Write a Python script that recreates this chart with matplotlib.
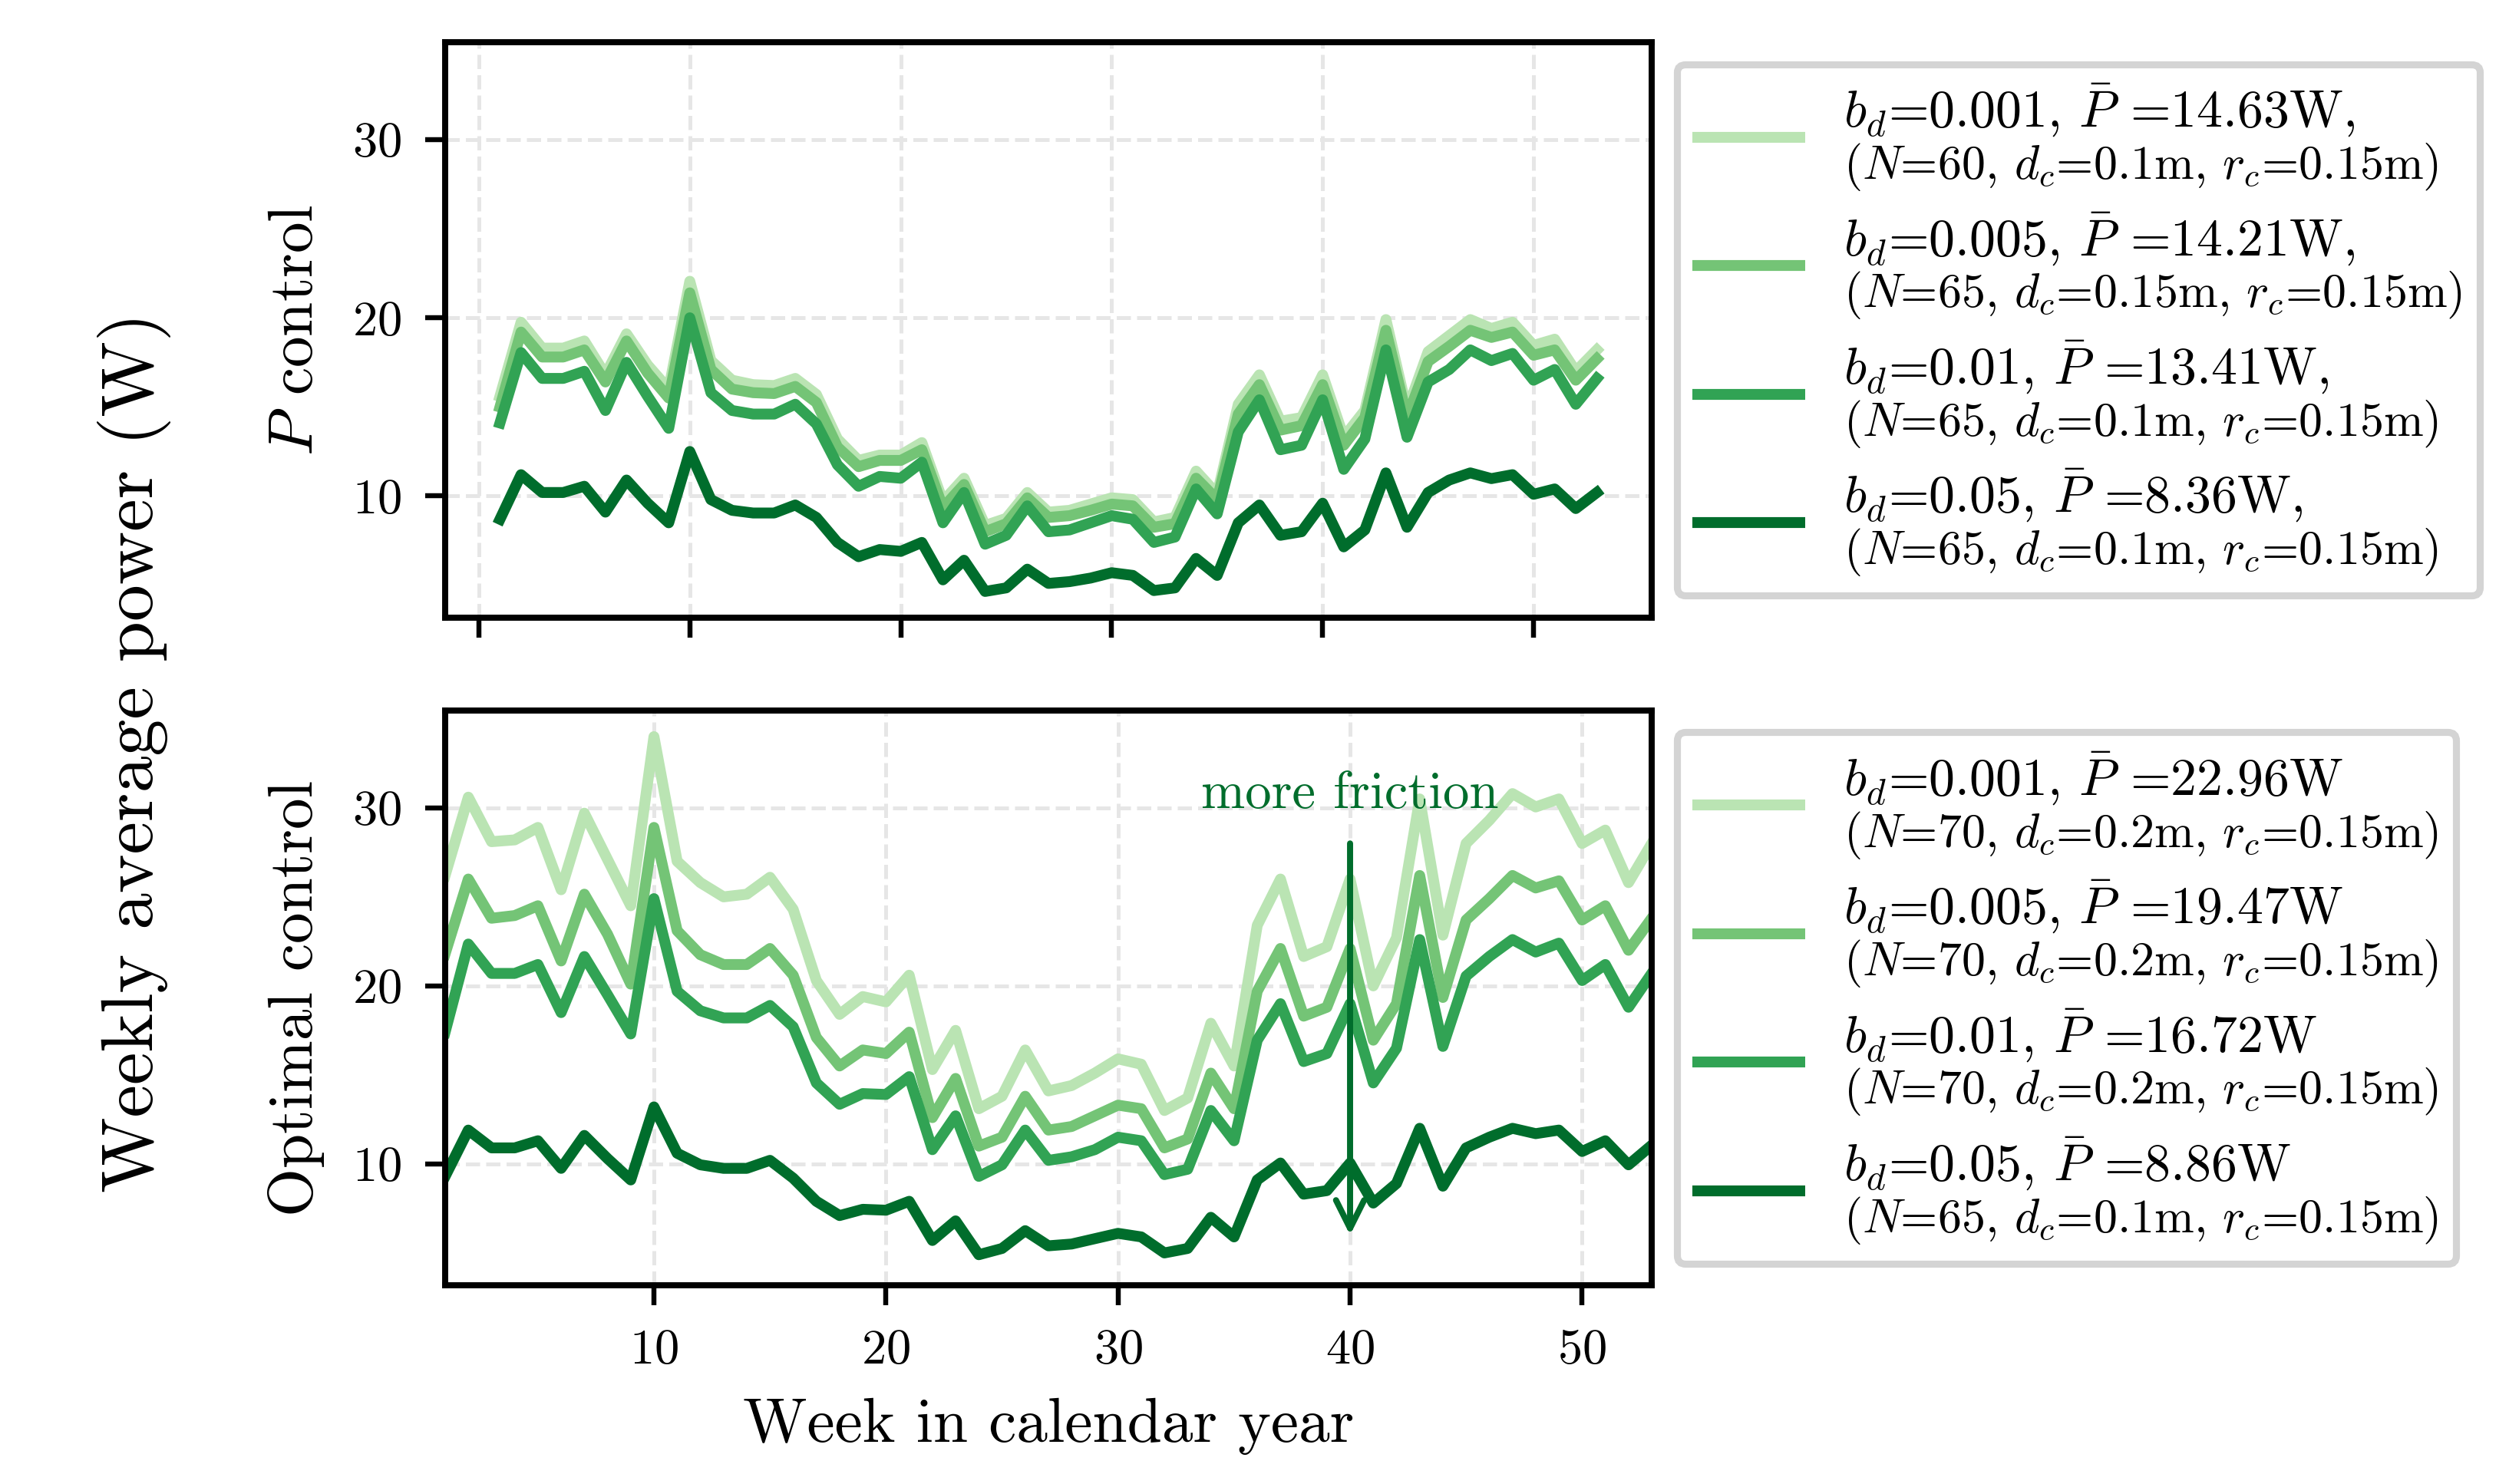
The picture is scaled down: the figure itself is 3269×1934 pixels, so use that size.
import matplotlib
matplotlib.use("Agg")
import matplotlib.pyplot as plt
from matplotlib.lines import Line2D
from matplotlib.offsetbox import (AnchoredOffsetbox, DrawingArea, HPacker,
                                  TextArea, VPacker)

plt.rcParams["font.family"] = "cmr10"
plt.rcParams["mathtext.fontset"] = "cm"
plt.rcParams["axes.formatter.use_mathtext"] = True

weeks = list(range(1, 54))

# P control, one series per friction coefficient b_d
p_b0001 = [15.6, 19.75, 18.3, 18.3, 18.7, 16.8, 19.1, 17.35, 16.0, 22.05,
           17.6, 16.5, 16.25, 16.2, 16.6, 15.7, 13.2, 12.0, 12.3, 12.3,
           13.0, 9.7, 11.0, 8.35, 8.75, 10.2, 9.1, 9.2, 9.55, 9.9,
           9.8, 8.55, 8.8, 11.4, 10.1, 15.15, 16.8, 14.2, 14.4, 16.8,
           13.3, 14.8, 19.9, 14.8, 18.1, 19.0, 19.9, 19.4, 19.75, 18.45,
           18.8, 17.0, 18.2]
p_b0005 = [15.0, 19.2, 17.8, 17.8, 18.2, 16.4, 18.7, 16.9, 15.5, 21.4,
           17.1, 16.0, 15.8, 15.75, 16.15, 15.25, 12.75, 11.65, 12.0, 12.0,
           12.6, 9.35, 10.65, 8.0, 8.45, 9.9, 8.8, 8.9, 9.2, 9.55,
           9.45, 8.25, 8.45, 11.0, 9.8, 14.6, 16.25, 13.7, 13.95, 16.25,
           12.85, 14.4, 19.3, 14.4, 17.55, 18.4, 19.3, 18.9, 19.2, 17.9,
           18.2, 16.5, 17.7]
p_b001 = [14.1, 18.05, 16.6, 16.6, 17.0, 14.8, 17.5, 15.6, 13.8, 20.0,
          15.8, 14.8, 14.6, 14.6, 15.15, 14.05, 11.75, 10.55, 11.1, 11.0,
          11.9, 8.5, 10.2, 7.3, 7.8, 9.45, 8.0, 8.1, 8.5, 8.9,
          8.7, 7.4, 7.7, 10.4, 9.0, 13.6, 15.4, 12.6, 12.85, 15.4,
          11.5, 13.2, 18.2, 13.3, 16.4, 17.1, 18.2, 17.6, 18.0, 16.5,
          17.1, 15.15, 16.6]
p_b005 = [8.7, 11.2, 10.2, 10.2, 10.55, 9.1, 10.9, 9.6, 8.5, 12.5,
          9.8, 9.2, 9.05, 9.05, 9.5, 8.8, 7.4, 6.6, 7.0, 6.9,
          7.4, 5.3, 6.4, 4.65, 4.85, 5.9, 5.1, 5.2, 5.4, 5.7,
          5.55, 4.7, 4.85, 6.5, 5.55, 8.5, 9.5, 7.8, 8.0, 9.6,
          7.15, 8.1, 11.3, 8.25, 10.2, 10.9, 11.3, 10.98, 11.2, 10.1,
          10.4, 9.3, 10.2]

# optimal control
o_b0001 = [26.2, 30.6, 28.1, 28.2, 28.9, 25.4, 29.7, 27.1, 24.5, 34.0,
           27.0, 25.8, 25.0, 25.15, 26.1, 24.3, 20.3, 18.4, 19.4, 19.1,
           20.6, 15.3, 17.5, 13.1, 13.8, 16.4, 14.1, 14.4, 15.1, 15.9,
           15.6, 13.0, 13.7, 17.9, 15.5, 23.4, 26.0, 21.65, 22.2, 26.0,
           20.0, 22.7, 30.5, 22.85, 28.0, 29.3, 30.8, 30.05, 30.5, 28.0,
           28.75, 25.8, 28.0]
o_b0005 = [21.8, 26.0, 23.8, 23.95, 24.5, 21.4, 25.15, 22.9, 20.1, 28.9,
           23.1, 21.75, 21.2, 21.2, 22.1, 20.6, 17.1, 15.5, 16.4, 16.2,
           17.4, 12.6, 14.8, 11.0, 11.5, 13.8, 11.9, 12.1, 12.7, 13.3,
           13.1, 10.9, 11.4, 15.1, 13.1, 19.7, 22.1, 18.3, 18.8, 22.1,
           16.95, 19.0, 26.2, 19.35, 23.7, 24.9, 26.2, 25.5, 25.9, 23.7,
           24.5, 22.0, 23.8]
o_b001 = [17.4, 22.35, 20.7, 20.7, 21.2, 18.5, 21.65, 19.5, 17.3, 24.9,
          19.7, 18.6, 18.2, 18.2, 18.9, 17.7, 14.55, 13.35, 13.95, 13.9,
          14.9, 10.8, 12.7, 9.3, 9.95, 11.9, 10.2, 10.4, 10.8, 11.5,
          11.3, 9.4, 9.7, 13.0, 11.3, 16.95, 19.0, 15.75, 16.2, 19.0,
          14.55, 16.5, 22.6, 16.6, 20.55, 21.65, 22.6, 21.9, 22.4, 20.3,
          21.2, 18.8, 20.7]
o_b005 = [9.3, 11.9, 10.9, 10.9, 11.3, 9.75, 11.6, 10.3, 9.1, 13.2,
          10.6, 9.95, 9.75, 9.75, 10.2, 9.2, 7.9, 7.1, 7.45, 7.4,
          7.9, 5.7, 6.8, 4.9, 5.25, 6.25, 5.4, 5.5, 5.8, 6.1,
          5.9, 5.0, 5.25, 7.0, 5.9, 9.1, 10.05, 8.3, 8.5, 10.05,
          7.8, 8.9, 12.0, 8.75, 10.9, 11.5, 12.0, 11.7, 11.9, 10.7,
          11.3, 9.95, 11.05]

colors = ["#bae4b3", "#74c476", "#31a354", "#006d2c"]

p_labels = [r"$b_d$=0.001, $\bar{P}$ =14.63W,",
            r"$b_d$=0.005, $\bar{P}$ =14.21W,",
            r"$b_d$=0.01, $\bar{P}$ =13.41W,",
            r"$b_d$=0.05, $\bar{P}$ =8.36W,"]
p_params = [r"($N$=60, $d_c$=0.1m, $r_c$=0.15m)",
            r"($N$=65, $d_c$=0.15m, $r_c$=0.15m)",
            r"($N$=65, $d_c$=0.1m, $r_c$=0.15m)",
            r"($N$=65, $d_c$=0.1m, $r_c$=0.15m)"]
o_labels = [r"$b_d$=0.001, $\bar{P}$ =22.96W",
            r"$b_d$=0.005, $\bar{P}$ =19.47W",
            r"$b_d$=0.01, $\bar{P}$ =16.72W",
            r"$b_d$=0.05, $\bar{P}$ =8.86W"]
o_params = [r"($N$=70, $d_c$=0.2m, $r_c$=0.15m)",
            r"($N$=70, $d_c$=0.2m, $r_c$=0.15m)",
            r"($N$=70, $d_c$=0.2m, $r_c$=0.15m)",
            r"($N$=65, $d_c$=0.1m, $r_c$=0.15m)"]

LW = 3.4


def style_axes(ax):
    for s in ax.spines.values():
        s.set_linewidth(1.9)
    ax.tick_params(direction="out", length=6.2, width=1.55, pad=7.4,
                   labelsize=15.5)
    ax.grid(True, ls="--", color="#e6e6e6", lw=1.2)
    ax.set_axisbelow(True)
    ax.set_yticks([10, 20, 30])


def add_legend(fig, ax, labels, params):
    rows = []
    for c, t1, t2 in zip(colors, labels, params):
        da = DrawingArea(34.6, 10, 0, 0)
        da.add_artist(Line2D([-0.7, 34.6], [5, 5], color=c, lw=LW,
                             solid_capstyle="butt"))
        txt = VPacker(children=[TextArea(t1, textprops=dict(size=16.3)),
                                TextArea(t2, textprops=dict(size=14.9))],
                      align="left", pad=0, sep=0.7)
        rows.append(HPacker(children=[da, txt], align="center", pad=0,
                            sep=11.9))
    box = VPacker(children=rows, align="left", pad=0, sep=5.5)
    anchored = AnchoredOffsetbox(loc="center left", child=box,
                                 pad=5.5 / 17, borderpad=0, frameon=True,
                                 prop=dict(size=17),
                                 bbox_to_anchor=(1.021, 0.5),
                                 bbox_transform=ax.transAxes)
    anchored.patch.set_boxstyle("round,pad=0,rounding_size=0.15")
    anchored.patch.set_edgecolor("0.83")
    anchored.patch.set_linewidth(2.2)
    fig.add_artist(anchored)


fig = plt.figure(figsize=(10.897, 6.447), dpi=300)
ax1 = fig.add_axes([0.1774, 0.5838, 0.4809, 0.3878])
ax2 = fig.add_axes([0.1774, 0.1339, 0.4809, 0.3873], sharey=ax1)

for ys, c in zip([p_b0001, p_b0005, p_b001, p_b005], colors):
    ax1.plot(weeks, ys, color=c, lw=LW)
for ys, c in zip([o_b0001, o_b0005, o_b001, o_b005], colors):
    ax2.plot(weeks, ys, color=c, lw=LW)

style_axes(ax1)
style_axes(ax2)
ax1.set_xticks([0, 10, 20, 30, 40, 50])
ax1.tick_params(labelbottom=False)
ax2.set_xlim(1, 53)
ax2.set_xticks([10, 20, 30, 40, 50])

ax1.set_ylabel(r"$P$ control", fontsize=19.5, labelpad=8.6)
ax2.set_ylabel("Optimal control", fontsize=19.5, labelpad=8.6)
ax2.set_xlabel("Week in calendar year", fontsize=19.5, labelpad=7.7)
fig.text(0.0535, 0.493, "Weekly average power (W)", rotation=90,
         ha="center", va="center", fontsize=23)

# friction arrow
ax2.annotate("", xy=(40, 6), xytext=(40, 28),
             arrowprops=dict(arrowstyle="->", color="#006d2c", lw=1.9,
                             mutation_scale=22, shrinkA=0, shrinkB=0))
ax2.text(40, 30, "more friction", ha="center", va="baseline",
         color="#006d2c", fontsize=16.5)

add_legend(fig, ax1, p_labels, p_params)
add_legend(fig, ax2, o_labels, o_params)

fig.savefig("out.png", dpi=300)
